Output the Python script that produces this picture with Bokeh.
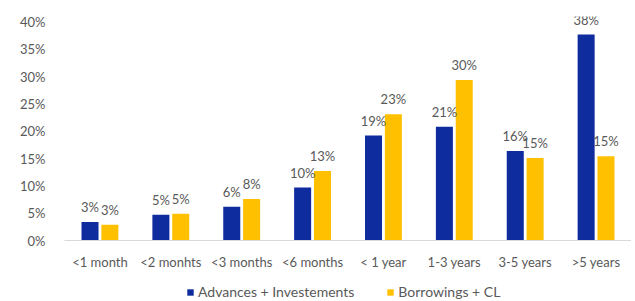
from bokeh.plotting import figure
from bokeh.models import ColumnDataSource, FactorRange, Range1d, Legend, LegendItem, NumeralTickFormatter, FixedTicker, LabelSet
from bokeh.core.properties import value
from bokeh.layouts import column
from bokeh.transform import dodge
from bokeh.embed import file_html
from bokeh.resources import INLINE

categories = ["<1 month", "<2 monhts", "<3 months", "<6 months", "< 1 year", "1-3 years", "3-5 years", ">5 years"]
advances = [0.034, 0.047, 0.062, 0.097, 0.192, 0.208, 0.164, 0.377]
borrowings = [0.029, 0.049, 0.076, 0.127, 0.231, 0.294, 0.151, 0.154]
advances_labels = ["3%", "5%", "6%", "10%", "19%", "21%", "16%", "38%"]
borrowings_labels = ["3%", "5%", "8%", "13%", "23%", "30%", "15%", "15%"]
series_names = ["Advances + Investements", "Borrowings + CL"]
y_ticks = [0, 0.05, 0.10, 0.15, 0.20, 0.25, 0.30, 0.35, 0.40]

BLUE = "#0E2C9E"
YELLOW = "#FFC000"
GRAY = "#595959"
FONT = "Lato"

src = ColumnDataSource(dict(cat=categories, a=advances, b=borrowings,
                            al=advances_labels, bl=borrowings_labels))

p = figure(width=631, height=272, x_range=FactorRange(*categories, range_padding=0),
           y_range=Range1d(0, 0.41), output_backend="svg", toolbar_location=None,
           min_border_left=64, min_border_right=0, min_border_top=16, min_border_bottom=29)
p.outline_line_color = None
p.grid.grid_line_color = None

p.vbar(x=dodge("cat", -0.14, range=p.x_range), top="a", width=0.24, source=src,
       fill_color=BLUE, line_color=None)
p.vbar(x=dodge("cat", 0.14, range=p.x_range), top="b", width=0.24, source=src,
       fill_color=YELLOW, line_color=None)

for col, lab, off in (("a", "al", -0.14), ("b", "bl", 0.14)):
    ls = LabelSet(x=dodge("cat", off, range=p.x_range), y=col, text=lab, source=src,
                  text_align="center", text_baseline="bottom", y_offset=7,
                  text_font=value(FONT), text_font_size=value("13px"), text_color=GRAY)
    p.add_layout(ls)

p.yaxis.ticker = FixedTicker(ticks=y_ticks)
p.yaxis.formatter = NumeralTickFormatter(format="0%")
p.yaxis.axis_line_color = None
p.yaxis.major_tick_line_color = None
p.yaxis.minor_tick_line_color = None
p.yaxis.major_label_standoff = 13
p.yaxis.major_label_text_font = FONT
p.yaxis.major_label_text_font_size = "13px"
p.yaxis.major_label_text_color = GRAY

p.xaxis.axis_line_color = "#D9D9D9"
p.xaxis.axis_line_width = 1
p.xaxis.major_tick_line_color = None
p.xaxis.minor_tick_line_color = None
p.xaxis.major_label_standoff = 7
p.xaxis.major_label_text_font = FONT
p.xaxis.major_label_text_font_size = "13px"
p.xaxis.major_label_text_color = GRAY

# legend strip below the chart (same bars drawn out of view, only the legend shows)
lf = figure(width=631, height=29, x_range=FactorRange(*categories), y_range=Range1d(1, 2),
            output_backend="svg", toolbar_location=None,
            x_axis_location=None, y_axis_location=None,
            min_border_left=0, min_border_right=0, min_border_top=0, min_border_bottom=0)
lf.outline_line_color = None
lf.grid.grid_line_color = None
la = lf.vbar(x="cat", top="a", width=0.1, source=src, fill_color=BLUE, line_color=None)
lb = lf.vbar(x="cat", top="b", width=0.1, source=src, fill_color=YELLOW, line_color=None)

legend = Legend(items=[LegendItem(label=series_names[0], renderers=[la]),
                       LegendItem(label=series_names[1], renderers=[lb])],
                orientation="horizontal", location=(122, 1),
                glyph_width=8, glyph_height=8, label_standoff=4, spacing=32,
                padding=2, margin=0, border_line_color=None, background_fill_alpha=0,
                label_text_font=FONT, label_text_font_size="14px", label_text_color=GRAY)
lf.add_layout(legend, "center")

open("out.html", "w").write(file_html(column(p, lf, spacing=0), INLINE))
